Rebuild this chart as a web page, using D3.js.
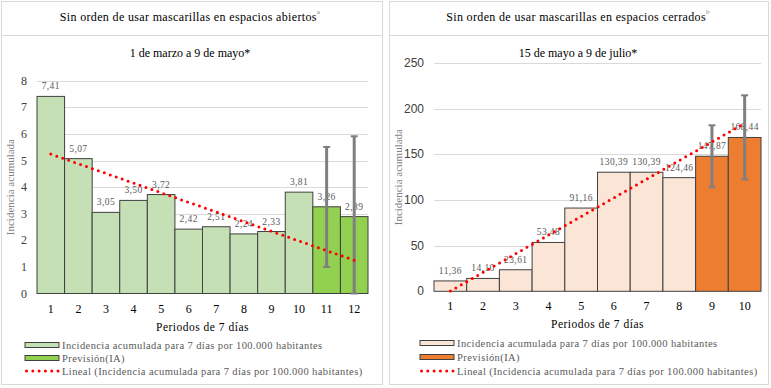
<!DOCTYPE html>
<html>
<head>
<meta charset="utf-8">
<script src="https://cdn.jsdelivr.net/npm/d3@7"></script>
<style>
  body { margin: 0; background: #fff; }
  svg { display: block; font-family: 'Liberation Serif', 'DejaVu Serif', serif; }
</style>
</head>
<body>
<div id="chart"></div>
<script>
// left panel: sin mascarillas en exteriores
const openPeriods = ['1', '2', '3', '4', '5', '6', '7', '8', '9', '10', '11', '12'];
const openValues = [7.41, 5.07, 3.05, 3.50, 3.72, 2.42, 2.51, 2.24, 2.33, 3.81, 3.26, 2.89];
const openForecast = [false, false, false, false, false, false, false, false, false, false, true, true];
const openErrLow = [null, null, null, null, null, null, null, null, null, null, 1.0, 0];
const openErrHigh = [null, null, null, null, null, null, null, null, null, null, 5.51, 5.91];
const openTrend = [5.24, 1.25]; // periodo 1 -> periodo 12
const openTicks = [0, 1, 2, 3, 4, 5, 6, 7, 8];

// right panel: sin mascarillas en interiores
const closedPeriods = ['1', '2', '3', '4', '5', '6', '7', '8', '9', '10'];
const closedValues = [11.36, 14.10, 23.61, 53.48, 91.16, 130.39, 130.39, 124.46, 147.87, 168.44];
const closedForecast = [false, false, false, false, false, false, false, false, true, true];
const closedErrLow = [null, null, null, null, null, null, null, null, 113.9, 122.6];
const closedErrHigh = [null, null, null, null, null, null, null, null, 181.8, 214.6];
const closedTrend = [0.3, 184]; // periodo 1 -> periodo 10
const closedTicks = [0, 50, 100, 150, 200, 250];

const legendSeries = 'Incidencia acumulada para 7 días por 100.000 habitantes';
const legendForecast = 'Previsión(IA)';
const legendTrend = 'Lineal (Incidencia acumulada para 7 días por 100.000 habitantes)';

const width = 771;
const height = 388;
const fmt = (v) => v.toFixed(2).replace('.', ',');

const svg = d3.select('#chart')
  .append('svg')
  .attr('width', width)
  .attr('height', height);

function drawPanel(p) {
  const g = svg.append('g');

  // frame + title box
  g.append('rect')
    .attr('x', p.x0 + 0.5).attr('y', 1.5)
    .attr('width', p.w).attr('height', 383)
    .attr('fill', 'none').attr('stroke', '#d9d9d9');
  g.append('line')
    .attr('x1', p.x0).attr('x2', p.x0 + p.w + 1)
    .attr('y1', 35.5).attr('y2', 35.5)
    .attr('stroke', '#d9d9d9');

  const title = g.append('text')
    .attr('x', p.titleX).attr('y', 21)
    .attr('text-anchor', 'middle')
    .attr('font-size', 12)
    .attr('letter-spacing', 0.35)
    .attr('fill', '#000')
    .text(p.title);
  title.append('tspan')
    .attr('dy', -7).attr('font-size', 7).attr('fill', '#7f7f7f')
    .text(p.sup);

  g.append('text')
    .attr('x', p.titleX).attr('y', 57)
    .attr('text-anchor', 'middle')
    .attr('font-size', 12)
    .text(p.subtitle);

  const x = d3.scaleBand()
    .domain(p.periods)
    .range([p.left, p.right])
    .padding(0);

  const y = d3.scaleLinear()
    .domain([0, p.max])
    .range([p.bottom, p.top]);

  // gridlines
  g.append('g')
    .selectAll('line')
    .data(p.ticks.slice(1))
    .join('line')
    .attr('x1', p.left).attr('x2', p.right)
    .attr('y1', (d) => Math.round(y(d)) + 0.5)
    .attr('y2', (d) => Math.round(y(d)) + 0.5)
    .attr('stroke', '#d9d9d9');

  // y tick labels
  g.append('g')
    .selectAll('text')
    .data(p.ticks)
    .join('text')
    .attr('x', p.left - 10)
    .attr('y', (d) => y(d) + 4)
    .attr('text-anchor', 'end')
    .attr('font-size', 12)
    .attr('font-family', p.tickFont)
    .attr('fill', '#404040')
    .text((d) => d);

  // x tick labels
  g.append('g')
    .selectAll('text')
    .data(p.periods)
    .join('text')
    .attr('x', (d) => x(d) + x.bandwidth() / 2)
    .attr('y', p.bottom + 19)
    .attr('text-anchor', 'middle')
    .attr('font-size', 12)
    .attr('fill', '#000')
    .text((d) => d);

  // axis titles
  g.append('text')
    .attr('transform', `translate(${p.x0 + 13}, ${(p.top + p.bottom) / 2}) rotate(-90)`)
    .attr('text-anchor', 'middle')
    .attr('font-size', 11)
    .attr('fill', '#7f7f7f')
    .text('Incidencia acumulada');

  g.append('text')
    .attr('x', (p.left + p.right) / 2)
    .attr('y', p.bottom + 37)
    .attr('text-anchor', 'middle')
    .attr('font-size', 11.5)
    .attr('letter-spacing', 0.5)
    .attr('fill', '#000')
    .text('Periodos de 7 días');

  const rows = p.periods.map((d, i) => ({
    period: d,
    value: p.values[i],
    forecast: p.forecast[i],
    lo: p.errLow[i],
    hi: p.errHigh[i],
  }));

  // bars
  g.append('g')
    .selectAll('rect')
    .data(rows)
    .join('rect')
    .attr('x', (d) => x(d.period))
    .attr('y', (d) => y(d.value))
    .attr('width', x.bandwidth())
    .attr('height', (d) => y(0) - y(d.value))
    .attr('fill', (d) => (d.forecast ? p.colorForecast : p.color))
    .attr('stroke', '#404040')
    .attr('stroke-width', 1);

  // value labels
  g.append('g')
    .selectAll('text')
    .data(rows)
    .join('text')
    .attr('x', (d) => x(d.period) + x.bandwidth() / 2)
    .attr('y', (d) => y(d.value) - 7)
    .attr('text-anchor', 'middle')
    .attr('font-size', 9.5)
    .attr('letter-spacing', 0.4)
    .attr('fill', '#595959')
    .text((d) => fmt(d.value));

  // error bars
  const errs = rows.filter((d) => d.hi !== null);
  const eg = g.append('g')
    .attr('stroke', '#7f7f7f')
    .attr('stroke-width', 3);
  eg.selectAll('.v')
    .data(errs)
    .join('line')
    .attr('x1', (d) => x(d.period) + x.bandwidth() / 2)
    .attr('x2', (d) => x(d.period) + x.bandwidth() / 2)
    .attr('y1', (d) => y(d.lo))
    .attr('y2', (d) => y(d.hi));
  eg.selectAll('.cap')
    .data(errs.flatMap((d) => [[d.period, d.hi], [d.period, d.lo]]))
    .join('line')
    .attr('x1', (d) => x(d[0]) + x.bandwidth() / 2 - 3.5)
    .attr('x2', (d) => x(d[0]) + x.bandwidth() / 2 + 3.5)
    .attr('y1', (d) => y(d[1]))
    .attr('y2', (d) => y(d[1]))
    .attr('stroke-width', 2);

  // linear trend
  const first = p.periods[0];
  const last = p.periods[p.periods.length - 1];
  g.append('line')
    .attr('x1', x(first) + x.bandwidth() / 2)
    .attr('y1', y(p.trend[0]))
    .attr('x2', x(last) + x.bandwidth() / 2)
    .attr('y2', y(p.trend[1]))
    .attr('stroke', '#ff0000')
    .attr('stroke-width', 3)
    .attr('stroke-linecap', 'round')
    .attr('stroke-dasharray', '0 6.3');

  // legend
  const lg = g.append('g')
    .attr('font-size', 10.5)
    .attr('letter-spacing', 0.4)
    .attr('fill', '#595959');
  const items = [
    { type: 'rect', color: p.color, label: legendSeries },
    { type: 'rect', color: p.colorForecast, label: legendForecast },
    { type: 'line', label: legendTrend },
  ];
  items.forEach((it, i) => {
    const cy = p.legendY[i];
    if (it.type === 'rect') {
      lg.append('rect')
        .attr('x', p.legendX).attr('y', cy - 2.5)
        .attr('width', 34).attr('height', 5)
        .attr('fill', it.color)
        .attr('stroke', '#404040')
        .attr('stroke-width', 1);
    } else {
      lg.append('line')
        .attr('x1', p.legendX + 1.5).attr('x2', p.legendX + 34)
        .attr('y1', cy).attr('y2', cy)
        .attr('stroke', '#ff0000')
        .attr('stroke-width', 3)
        .attr('stroke-linecap', 'round')
        .attr('stroke-dasharray', '0 6.3');
    }
    lg.append('text')
      .attr('x', p.legendX + 37)
      .attr('y', cy + 4)
      .text(it.label);
  });
}

drawPanel({
  x0: 1,
  w: 381,
  titleX: 190,
  title: 'Sin orden de usar mascarillas en espacios abiertos',
  sup: 'a',
  subtitle: '1 de marzo a 9 de mayo*',
  periods: openPeriods,
  values: openValues,
  forecast: openForecast,
  errLow: openErrLow,
  errHigh: openErrHigh,
  trend: openTrend,
  ticks: openTicks,
  max: 8,
  left: 37,
  right: 368,
  top: 80.7,
  bottom: 293.5,
  tickFont: "'Liberation Serif', serif",
  color: '#c5e0b4',
  colorForecast: '#92d050',
  legendX: 25,
  legendY: [345, 358, 371],
});

drawPanel({
  x0: 389,
  w: 379,
  titleX: 578,
  title: 'Sin orden de usar mascarillas en espacios cerrados',
  sup: 'b',
  subtitle: '15 de mayo a 9 de julio*',
  periods: closedPeriods,
  values: closedValues,
  forecast: closedForecast,
  errLow: closedErrLow,
  errHigh: closedErrHigh,
  trend: closedTrend,
  ticks: closedTicks,
  max: 250,
  left: 434,
  right: 761,
  top: 63,
  bottom: 291.3,
  tickFont: "'Liberation Sans', sans-serif",
  color: '#fbe5d6',
  colorForecast: '#ed7d31',
  legendX: 420,
  legendY: [343, 357, 371],
});
</script>
</body>
</html>
